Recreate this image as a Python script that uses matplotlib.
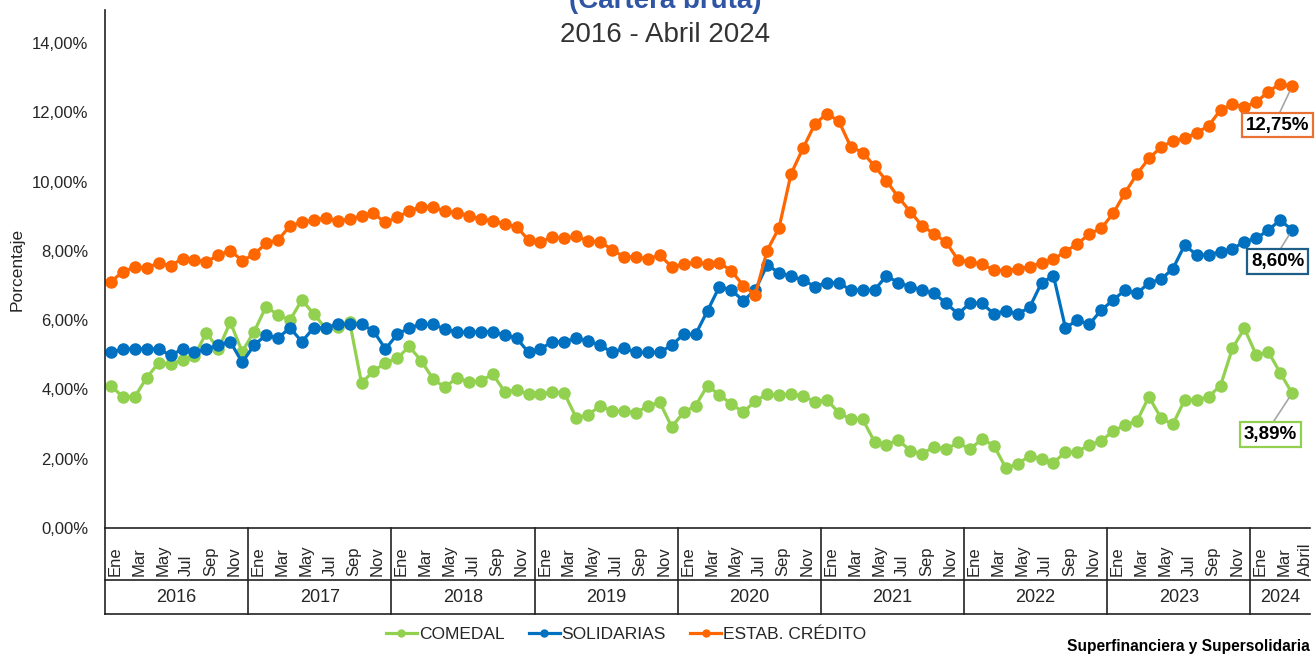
import matplotlib.pyplot as plt
from matplotlib.lines import Line2D

plt.rcParams['font.family'] = ['Liberation Sans', 'DejaVu Sans']

# --- data (percent), monthly Ene 2016 .. Abril 2024 ---
comedal = [4.10, 3.79, 3.79, 4.34, 4.77, 4.73, 4.85, 4.97, 5.64, 5.16, 5.94, 5.09,
           5.67, 6.39, 6.15, 6.00, 6.58, 6.18, 5.76, 5.81, 5.96, 4.18, 4.53, 4.77,
           4.90, 5.24, 4.83, 4.30, 4.06, 4.34, 4.21, 4.25, 4.44, 3.94, 3.98, 3.86,
           3.86, 3.92, 3.89, 3.18, 3.27, 3.52, 3.38, 3.38, 3.33, 3.52, 3.63, 2.92,
           3.34, 3.53, 4.11, 3.84, 3.58, 3.34, 3.67, 3.86, 3.84, 3.87, 3.81, 3.65,
           3.70, 3.33, 3.14, 3.14, 2.49, 2.40, 2.54, 2.23, 2.14, 2.35, 2.27, 2.47,
           2.27, 2.57, 2.38, 1.74, 1.84, 2.09, 1.99, 1.89, 2.19, 2.20, 2.40, 2.51,
           2.80, 2.97, 3.09, 3.79, 3.18, 2.99, 3.70, 3.70, 3.79, 4.11, 5.19, 5.76,
           4.99, 5.09, 4.48, 3.89]
solidarias = [5.07, 5.17, 5.17, 5.17, 5.17, 4.98, 5.17, 5.07, 5.17, 5.28, 5.38, 4.78,
              5.28, 5.57, 5.48, 5.78, 5.38, 5.78, 5.78, 5.88, 5.88, 5.88, 5.69, 5.17,
              5.59, 5.78, 5.88, 5.88, 5.74, 5.65, 5.65, 5.67, 5.67, 5.57, 5.48, 5.07,
              5.17, 5.38, 5.38, 5.48, 5.40, 5.28, 5.07, 5.19, 5.07, 5.07, 5.07, 5.28,
              5.59, 5.59, 6.27, 6.97, 6.87, 6.56, 6.87, 7.59, 7.37, 7.27, 7.16, 6.97,
              7.08, 7.08, 6.87, 6.87, 6.87, 7.28, 7.08, 6.97, 6.87, 6.77, 6.49, 6.18,
              6.49, 6.49, 6.18, 6.27, 6.18, 6.37, 7.08, 7.28, 5.78, 6.00, 5.88, 6.29,
              6.58, 6.87, 6.77, 7.08, 7.18, 7.48, 8.17, 7.88, 7.88, 7.98, 8.05, 8.27,
              8.36, 8.60, 8.89, 8.60]
estab_credito = [7.11, 7.40, 7.53, 7.50, 7.66, 7.57, 7.78, 7.73, 7.69, 7.87, 8.01, 7.72,
                 7.90, 8.22, 8.31, 8.72, 8.82, 8.89, 8.95, 8.86, 8.93, 9.00, 9.08, 8.82,
                 8.97, 9.15, 9.28, 9.26, 9.15, 9.10, 9.02, 8.92, 8.87, 8.78, 8.70, 8.31,
                 8.25, 8.41, 8.36, 8.43, 8.28, 8.27, 8.03, 7.83, 7.83, 7.76, 7.88, 7.54,
                 7.61, 7.67, 7.61, 7.66, 7.42, 7.00, 6.73, 8.01, 8.67, 10.22, 10.96, 11.66,
                 11.96, 11.75, 11.01, 10.84, 10.45, 10.02, 9.55, 9.13, 8.72, 8.49, 8.25, 7.74,
                 7.69, 7.61, 7.45, 7.43, 7.48, 7.54, 7.66, 7.76, 7.98, 8.20, 8.49, 8.65,
                 9.08, 9.68, 10.22, 10.67, 10.99, 11.18, 11.25, 11.41, 11.61, 12.07, 12.23, 12.16,
                 12.29, 12.60, 12.82, 12.75]

years = ['2016', '2017', '2018', '2019', '2020', '2021', '2022', '2023', '2024']
month_idx = list(range(0, 96, 2)) + [96, 98, 99]
month_txt = ['Ene', 'Mar', 'May', 'Jul', 'Sep', 'Nov'] * 8 + ['Ene', 'Mar', 'Abril']

GREEN = '#92D050'
BLUE = '#0070C0'
ORANGE = '#FF6600'
TXT = '#262626'

x = list(range(len(comedal)))
xmin, xmax = -0.5, len(x) + 0.5

fig = plt.figure(figsize=(13.16, 6.56), dpi=100)
ax = fig.add_axes([105 / 1316, 128 / 656, 1205 / 1316, 518 / 656])

ax.plot(x, comedal, '-o', color=GREEN, lw=2.3, ms=8, label='COMEDAL')
ax.plot(x, solidarias, '-o', color=BLUE, lw=2.3, ms=8, label='SOLIDARIAS')
ax.plot(x, estab_credito, '-o', color=ORANGE, lw=2.3, ms=8, label='ESTAB. CRÉDITO')

ax.set_xlim(xmin, xmax)
ax.set_ylim(0, 518 / 34.64)
ax.set_yticks(range(0, 15, 2))
ax.set_yticklabels([f'{v:.2f}%'.replace('.', ',') for v in range(0, 15, 2)],
                   fontsize=12, color=TXT)
ax.tick_params(axis='y', length=0, pad=12)
ax.set_xticks([])
ax.set_ylabel('Porcentaje', fontsize=12.5, color=TXT, labelpad=5)

for s in ['top', 'right']:
    ax.spines[s].set_visible(False)
ax.spines['left'].set_color('#222222')
ax.spines['bottom'].set_color('#222222')
ax.spines['left'].set_linewidth(1.2)
ax.spines['bottom'].set_linewidth(1.2)

# category table under the axis
tr = ax.get_xaxis_transform()
row1 = -(580 - 528) / 518
row2 = -(614 - 528) / 518
kw = dict(transform=tr, clip_on=False, color='#222222', lw=1.2)
ax.plot([xmin, xmin], [0, row2], **kw)
ax.plot([xmin, xmax], [row1, row1], **kw)
ax.plot([xmin, xmax], [row2, row2], **kw)
for k, yr in enumerate(years):
    start = xmin + 12 * k
    end = min(start + 12, xmax)
    if k > 0:
        ax.plot([start, start], [0, row2], **kw)
    ax.text((start + end) / 2, (row1 + row2) / 2, yr, transform=tr,
            ha='center', va='center', fontsize=13, color=TXT)
for n, (i, m) in enumerate(zip(month_idx, month_txt)):
    # the last label sits in the extra slot at the right end of the axis
    xpos = i + 0.35 if n < len(month_idx) - 1 else i + 1.1
    ax.text(xpos, -(576 - 528) / 518, m, transform=tr, rotation=90,
            ha='center', va='bottom', fontsize=12, color=TXT)

# last value labels
labels = [(estab_credito, '#E97132', 97.8, 11.63),
          (solidarias, '#1F5E87', 97.8, 7.69),
          (comedal, GREEN, 97.2, 2.70)]
for serie, ec, tx, ty in labels:
    ax.annotate(f'{serie[-1]:.2f}%'.replace('.', ','), xy=(x[-1], serie[-1]),
                xytext=(tx, ty), ha='center', va='center', fontsize=13.5,
                fontweight='bold', color='black', annotation_clip=False,
                bbox=dict(boxstyle='square,pad=0.2', fc='white', ec=ec, lw=1.6),
                arrowprops=dict(arrowstyle='-', color='#A6A6A6', lw=1.2,
                                relpos=(0.5, 1.0), shrinkA=0, shrinkB=4))

# titles
fig.text(665 / 1316, 1 - 8 / 656, '(Cartera bruta)', ha='center', va='baseline',
         fontsize=20, fontweight='bold', color='#2F55A4')
fig.text(665 / 1316, 1 - 42 / 656, '2016 - Abril 2024', ha='center', va='baseline',
         fontsize=20, color='#333333')

handles = [Line2D([], [], color=c, lw=2.3, marker='o', ms=5)
           for c in (GREEN, BLUE, ORANGE)]
fig.legend(handles, ['COMEDAL', 'SOLIDARIAS', 'ESTAB. CRÉDITO'], loc='center',
           bbox_to_anchor=(626 / 1316, 1 - 634 / 656), ncol=3, frameon=False,
           fontsize=12.5, handlelength=1.8, handletextpad=0.1, columnspacing=1.4,
           labelcolor=TXT)

fig.text(1310 / 1316, 1 - 647 / 656, 'Superfinanciera y Supersolidaria',
         ha='right', va='center', fontsize=11.2, fontweight='bold', color='black')

fig.savefig('out.png', dpi=100)
